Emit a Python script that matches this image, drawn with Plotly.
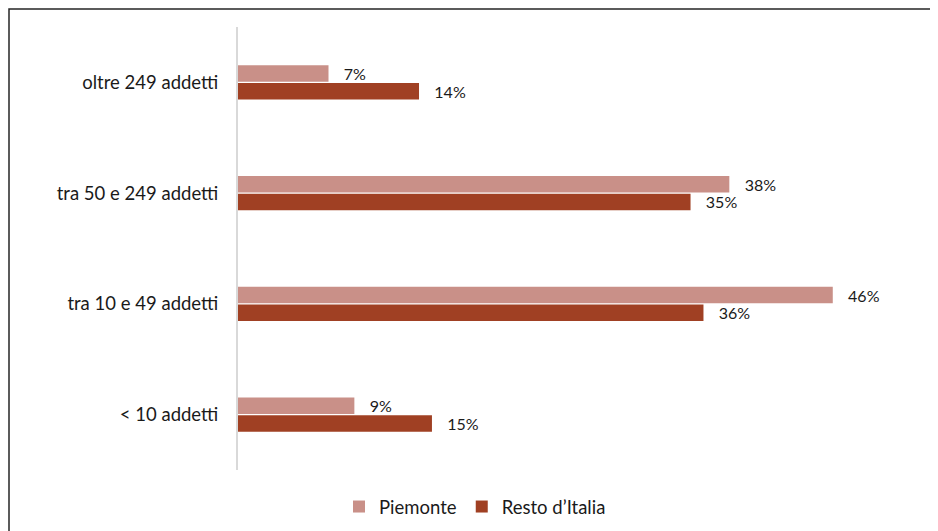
import plotly.graph_objects as go

categories = ["oltre 249 addetti", "tra 50 e 249 addetti", "tra 10 e 49 addetti", "< 10 addetti"]
piemonte = [7, 38, 46, 9]
resto_italia = [14, 35, 36, 15]
series_names = ["Piemonte", "Resto d’Italia"]

c_piem = "#C99088"
c_resto = "#A04023"
font_family = "Lato, 'Open Sans', sans-serif"
pad = "\u00a0\u00a0\u00a0"

L, R, T, B = 230, 46, 19, 69
W, H = 938, 531
pw, ph = W - L - R, H - T - B

fig = go.Figure()
for name, vals, col in [(series_names[0], piemonte, c_piem), (series_names[1], resto_italia, c_resto)]:
    fig.add_trace(go.Bar(
        y=categories, x=vals, name=name, orientation="h",
        marker=dict(color=col, line=dict(width=0)),
        text=[f"{pad}{v}%" for v in vals],
        textposition="outside", constraintext="none", cliponaxis=False,
        textfont=dict(family=font_family, size=16, color="#1a1a1a"),
    ))

fig.update_layout(
    width=W, height=H,
    margin=dict(l=L, r=R, t=T, b=B),
    paper_bgcolor="white", plot_bgcolor="white",
    barmode="group", bargap=0.682, bargroupgap=0.06,
    font=dict(family=font_family, size=18.5, color="#1a1a1a"),
    showlegend=True,
    legend=dict(orientation="h", x=(467 - L) / pw, xanchor="center",
                y=(H - B - 499) / ph, yanchor="middle",
                font=dict(size=18.5, color="#1a1a1a"), itemclick=False),
    xaxis=dict(range=[0, 51.2], visible=False, showgrid=False, zeroline=False),
    yaxis=dict(autorange="reversed", showline=True, linecolor="#d9d9d9", linewidth=2,
               ticks="", showgrid=False, ticklabelstandoff=14,
               tickfont=dict(size=18.5, color="#1a1a1a")),
    shapes=[dict(type="rect", xref="paper", yref="paper",
                 x0=(1 - L) / pw, x1=(W + 10 - L) / pw,
                 y0=(H - B - (H + 10)) / ph, y1=(H - B - 1) / ph,
                 line=dict(color="#262626", width=1.5), fillcolor="rgba(0,0,0,0)", layer="below")],
)

fig.write_html("out.html")
